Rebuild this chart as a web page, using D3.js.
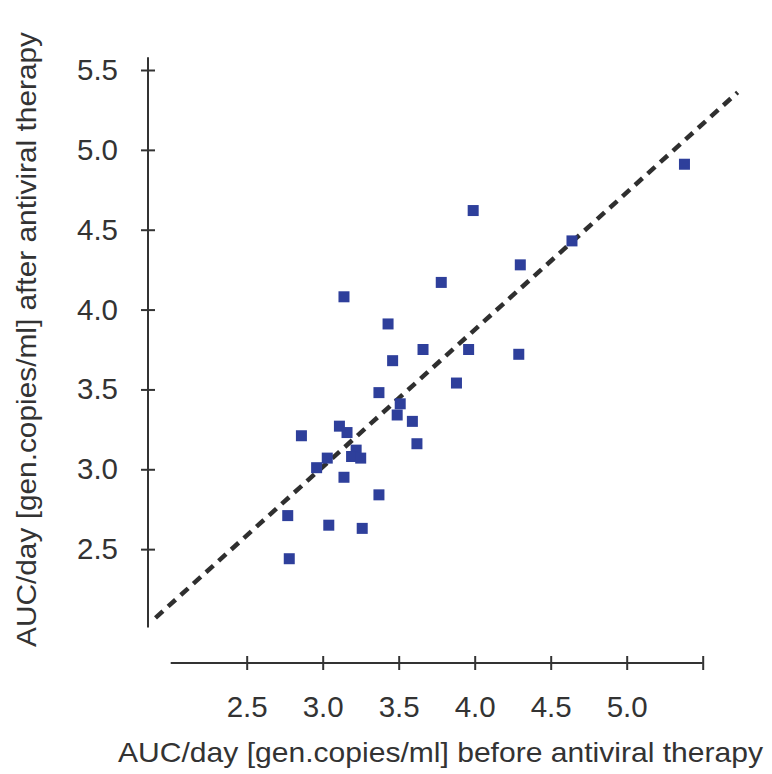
<!DOCTYPE html>
<html>
<head>
<meta charset="utf-8">
<script src="https://cdn.jsdelivr.net/npm/d3@7"></script>
<style>
  html, body { margin: 0; padding: 0; background: #ffffff; }
  svg { display: block; }
  text { font-family: "Liberation Sans", Arial, Helvetica, sans-serif; fill: #333333; }
</style>
</head>
<body>
<svg id="chart" width="772" height="774"></svg>
<script>
// ---- data ----
const beforeValues = [5.38, 4.64, 4.30, 3.99, 3.78, 3.14, 3.43, 3.66, 3.96, 3.46,
                      4.29, 3.88, 3.37, 3.51, 3.49, 3.59, 3.62, 2.86, 3.11, 3.16,
                      3.22, 3.19, 3.25, 3.03, 2.96, 3.14, 3.37, 2.77, 3.04, 3.26, 2.78];
const afterValues  = [4.91, 4.43, 4.28, 4.62, 4.17, 4.08, 3.91, 3.75, 3.75, 3.68,
                      3.72, 3.54, 3.48, 3.41, 3.34, 3.30, 3.16, 3.21, 3.27, 3.23,
                      3.12, 3.08, 3.07, 3.07, 3.01, 2.95, 2.84, 2.71, 2.65, 2.63, 2.44];
const fitLineX = [1.90, 5.73];
const fitLineY = [2.07, 5.36];
const xTickValues = [2.5, 3.0, 3.5, 4.0, 4.5, 5.0, 5.5];
const xTickLabels = ["2.5", "3.0", "3.5", "4.0", "4.5", "5.0", ""];
const yTickValues = [2.5, 3.0, 3.5, 4.0, 4.5, 5.0, 5.5];
const yTickLabels = ["2.5", "3.0", "3.5", "4.0", "4.5", "5.0", "5.5"];
const xTitle = "AUC/day [gen.copies/ml] before antiviral therapy";
const yTitle = "AUC/day [gen.copies/ml] after antiviral therapy";

// ---- layout ----
const svg = d3.select("#chart");
const x = d3.scaleLinear().domain([2, 5.5]).range([170.7, 702.7]);
const y = d3.scaleLinear().domain([2, 5.5]).range([629, 70]);
const yAxisX = 148;
const xAxisY = 663;
const ink = "#333333";
const tickFont = 29.5;

// x axis
const xAxis = d3.axisBottom(x)
  .tickValues(xTickValues)
  .tickFormat((d, i) => xTickLabels[i])
  .tickSizeInner(7).tickSizeOuter(0).tickPadding(26);
const gx = svg.append("g").attr("transform", `translate(0,${xAxisY})`).call(xAxis);
gx.select(".domain").remove();
gx.selectAll(".tick line").attr("y1", -7).attr("y2", 7).attr("stroke", ink).attr("stroke-width", 2);
gx.selectAll(".tick text").attr("font-size", tickFont).attr("fill", ink)
  .attr("font-family", "Liberation Sans, Arial, sans-serif");
gx.append("line").attr("x1", x(2)).attr("x2", x(5.5)).attr("y1", 0).attr("y2", 0)
  .attr("stroke", ink).attr("stroke-width", 2);

// y axis
const yAxis = d3.axisLeft(y)
  .tickValues(yTickValues)
  .tickFormat((d, i) => yTickLabels[i])
  .tickSizeInner(7).tickSizeOuter(0).tickPadding(23);
const gy = svg.append("g").attr("transform", `translate(${yAxisX},0)`).call(yAxis);
gy.select(".domain").remove();
gy.selectAll(".tick line").attr("x1", -7).attr("x2", 7).attr("stroke", ink).attr("stroke-width", 2);
gy.selectAll(".tick text").attr("font-size", tickFont).attr("fill", ink)
  .attr("font-family", "Liberation Sans, Arial, sans-serif");
gy.append("line").attr("x1", 0).attr("x2", 0).attr("y1", y(2.01)).attr("y2", y(5.58))
  .attr("stroke", ink).attr("stroke-width", 2);

// titles
svg.append("text")
  .attr("x", 440.5).attr("y", 762)
  .attr("text-anchor", "middle")
  .attr("font-size", 28)
  .attr("textLength", 645).attr("lengthAdjust", "spacingAndGlyphs")
  .text(xTitle);
svg.append("text")
  .attr("transform", "translate(36,339.5) rotate(-90)")
  .attr("text-anchor", "middle")
  .attr("font-size", 28)
  .attr("textLength", 615).attr("lengthAdjust", "spacingAndGlyphs")
  .text(yTitle);

// fit line (dashed)
svg.append("line")
  .attr("x1", x(fitLineX[0])).attr("y1", y(fitLineY[0]))
  .attr("x2", x(fitLineX[1])).attr("y2", y(fitLineY[1]))
  .attr("stroke", "#2f2f2f").attr("stroke-width", 4.5)
  .attr("stroke-dasharray", "10,7");

// points
const pts = beforeValues.map((b, i) => ({ b, a: afterValues[i] }));
const s = 11;
svg.append("g").selectAll("rect").data(pts).join("rect")
  .attr("x", d => x(d.b) - s / 2)
  .attr("y", d => y(d.a) - s / 2)
  .attr("width", s).attr("height", s)
  .attr("fill", "#2E3F9B");
</script>
</body>
</html>
